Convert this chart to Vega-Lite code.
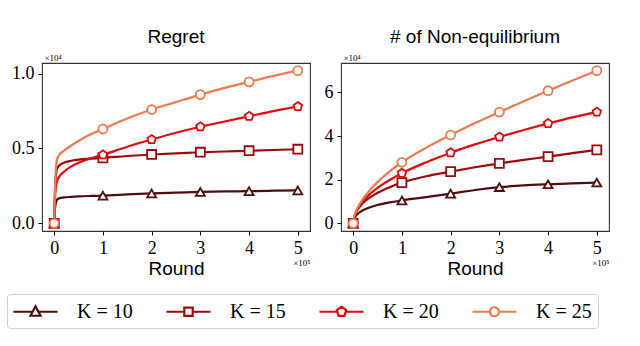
{
  "$schema": "https://vega.github.io/schema/vega-lite/v6.json",
  "padding": {"left": 6, "top": 27, "right": 5, "bottom": 5},
  "background": "white",
  "datasets": {
    "regret": [
      {"K": "K = 10", "x": 0, "y": 0, "m": 1}, {"K": "K = 10", "x": 0.01, "y": 0.07, "m": 0}, {"K": "K = 10", "x": 0.03, "y": 0.13, "m": 0}, {"K": "K = 10", "x": 0.06, "y": 0.158, "m": 0}, {"K": "K = 10", "x": 0.1, "y": 0.167, "m": 0}, {"K": "K = 10", "x": 0.2, "y": 0.173, "m": 0}, {"K": "K = 10", "x": 0.35, "y": 0.177, "m": 0}, {"K": "K = 10", "x": 0.5, "y": 0.18, "m": 0}, {"K": "K = 10", "x": 0.75, "y": 0.183, "m": 0}, {"K": "K = 10", "x": 1, "y": 0.185, "m": 1}, {"K": "K = 10", "x": 1.5, "y": 0.193, "m": 0}, {"K": "K = 10", "x": 2, "y": 0.2, "m": 1}, {"K": "K = 10", "x": 2.5, "y": 0.205, "m": 0}, {"K": "K = 10", "x": 3, "y": 0.21, "m": 1}, {"K": "K = 10", "x": 3.5, "y": 0.213, "m": 0}, {"K": "K = 10", "x": 4, "y": 0.215, "m": 1}, {"K": "K = 10", "x": 4.5, "y": 0.218, "m": 0}, {"K": "K = 10", "x": 5, "y": 0.22, "m": 1},
      {"K": "K = 15", "x": 0, "y": 0, "m": 1}, {"K": "K = 15", "x": 0.01, "y": 0.15, "m": 0}, {"K": "K = 15", "x": 0.03, "y": 0.3, "m": 0}, {"K": "K = 15", "x": 0.06, "y": 0.365, "m": 0}, {"K": "K = 15", "x": 0.1, "y": 0.385, "m": 0}, {"K": "K = 15", "x": 0.2, "y": 0.405, "m": 0}, {"K": "K = 15", "x": 0.35, "y": 0.418, "m": 0}, {"K": "K = 15", "x": 0.5, "y": 0.426, "m": 0}, {"K": "K = 15", "x": 0.75, "y": 0.432, "m": 0}, {"K": "K = 15", "x": 1, "y": 0.437, "m": 1}, {"K": "K = 15", "x": 1.5, "y": 0.45, "m": 0}, {"K": "K = 15", "x": 2, "y": 0.46, "m": 1}, {"K": "K = 15", "x": 2.5, "y": 0.468, "m": 0}, {"K": "K = 15", "x": 3, "y": 0.475, "m": 1}, {"K": "K = 15", "x": 3.5, "y": 0.48, "m": 0}, {"K": "K = 15", "x": 4, "y": 0.485, "m": 1}, {"K": "K = 15", "x": 4.5, "y": 0.49, "m": 0}, {"K": "K = 15", "x": 5, "y": 0.495, "m": 1},
      {"K": "K = 20", "x": 0, "y": 0, "m": 1}, {"K": "K = 20", "x": 0.01, "y": 0.12, "m": 0}, {"K": "K = 20", "x": 0.03, "y": 0.23, "m": 0}, {"K": "K = 20", "x": 0.06, "y": 0.285, "m": 0}, {"K": "K = 20", "x": 0.1, "y": 0.31, "m": 0}, {"K": "K = 20", "x": 0.2, "y": 0.345, "m": 0}, {"K": "K = 20", "x": 0.35, "y": 0.38, "m": 0}, {"K": "K = 20", "x": 0.5, "y": 0.405, "m": 0}, {"K": "K = 20", "x": 0.75, "y": 0.435, "m": 0}, {"K": "K = 20", "x": 1, "y": 0.458, "m": 1}, {"K": "K = 20", "x": 1.5, "y": 0.512, "m": 0}, {"K": "K = 20", "x": 2, "y": 0.56, "m": 1}, {"K": "K = 20", "x": 2.5, "y": 0.605, "m": 0}, {"K": "K = 20", "x": 3, "y": 0.645, "m": 1}, {"K": "K = 20", "x": 3.5, "y": 0.68, "m": 0}, {"K": "K = 20", "x": 4, "y": 0.715, "m": 1}, {"K": "K = 20", "x": 4.5, "y": 0.75, "m": 0}, {"K": "K = 20", "x": 5, "y": 0.78, "m": 1},
      {"K": "K = 25", "x": 0, "y": 0, "m": 1}, {"K": "K = 25", "x": 0.01, "y": 0.15, "m": 0}, {"K": "K = 25", "x": 0.03, "y": 0.33, "m": 0}, {"K": "K = 25", "x": 0.06, "y": 0.43, "m": 0}, {"K": "K = 25", "x": 0.1, "y": 0.455, "m": 0}, {"K": "K = 25", "x": 0.2, "y": 0.485, "m": 0}, {"K": "K = 25", "x": 0.35, "y": 0.52, "m": 0}, {"K": "K = 25", "x": 0.5, "y": 0.55, "m": 0}, {"K": "K = 25", "x": 0.75, "y": 0.595, "m": 0}, {"K": "K = 25", "x": 1, "y": 0.63, "m": 1}, {"K": "K = 25", "x": 1.5, "y": 0.7, "m": 0}, {"K": "K = 25", "x": 2, "y": 0.76, "m": 1}, {"K": "K = 25", "x": 2.5, "y": 0.81, "m": 0}, {"K": "K = 25", "x": 3, "y": 0.86, "m": 1}, {"K": "K = 25", "x": 3.5, "y": 0.905, "m": 0}, {"K": "K = 25", "x": 4, "y": 0.945, "m": 1}, {"K": "K = 25", "x": 4.5, "y": 0.985, "m": 0}, {"K": "K = 25", "x": 5, "y": 1.02, "m": 1}
    ],
    "noneq": [
      {"K": "K = 10", "x": 0, "y": 0, "m": 1}, {"K": "K = 10", "x": 0.01, "y": 0.15, "m": 0}, {"K": "K = 10", "x": 0.03, "y": 0.26, "m": 0}, {"K": "K = 10", "x": 0.06, "y": 0.36, "m": 0}, {"K": "K = 10", "x": 0.1, "y": 0.45, "m": 0}, {"K": "K = 10", "x": 0.2, "y": 0.6, "m": 0}, {"K": "K = 10", "x": 0.35, "y": 0.74, "m": 0}, {"K": "K = 10", "x": 0.5, "y": 0.84, "m": 0}, {"K": "K = 10", "x": 0.75, "y": 0.96, "m": 0}, {"K": "K = 10", "x": 1, "y": 1.05, "m": 1}, {"K": "K = 10", "x": 1.5, "y": 1.2, "m": 0}, {"K": "K = 10", "x": 2, "y": 1.36, "m": 1}, {"K": "K = 10", "x": 2.5, "y": 1.53, "m": 0}, {"K": "K = 10", "x": 3, "y": 1.66, "m": 1}, {"K": "K = 10", "x": 3.5, "y": 1.74, "m": 0}, {"K": "K = 10", "x": 4, "y": 1.79, "m": 1}, {"K": "K = 10", "x": 4.5, "y": 1.83, "m": 0}, {"K": "K = 10", "x": 5, "y": 1.87, "m": 1},
      {"K": "K = 15", "x": 0, "y": 0, "m": 1}, {"K": "K = 15", "x": 0.01, "y": 0.18, "m": 0}, {"K": "K = 15", "x": 0.03, "y": 0.34, "m": 0}, {"K": "K = 15", "x": 0.06, "y": 0.5, "m": 0}, {"K": "K = 15", "x": 0.1, "y": 0.66, "m": 0}, {"K": "K = 15", "x": 0.2, "y": 0.93, "m": 0}, {"K": "K = 15", "x": 0.35, "y": 1.2, "m": 0}, {"K": "K = 15", "x": 0.5, "y": 1.4, "m": 0}, {"K": "K = 15", "x": 0.75, "y": 1.66, "m": 0}, {"K": "K = 15", "x": 1, "y": 1.87, "m": 1}, {"K": "K = 15", "x": 1.5, "y": 2.16, "m": 0}, {"K": "K = 15", "x": 2, "y": 2.37, "m": 1}, {"K": "K = 15", "x": 2.5, "y": 2.57, "m": 0}, {"K": "K = 15", "x": 3, "y": 2.75, "m": 1}, {"K": "K = 15", "x": 3.5, "y": 2.91, "m": 0}, {"K": "K = 15", "x": 4, "y": 3.06, "m": 1}, {"K": "K = 15", "x": 4.5, "y": 3.22, "m": 0}, {"K": "K = 15", "x": 5, "y": 3.37, "m": 1},
      {"K": "K = 20", "x": 0, "y": 0, "m": 1}, {"K": "K = 20", "x": 0.01, "y": 0.19, "m": 0}, {"K": "K = 20", "x": 0.03, "y": 0.36, "m": 0}, {"K": "K = 20", "x": 0.06, "y": 0.53, "m": 0}, {"K": "K = 20", "x": 0.1, "y": 0.7, "m": 0}, {"K": "K = 20", "x": 0.2, "y": 1.02, "m": 0}, {"K": "K = 20", "x": 0.35, "y": 1.36, "m": 0}, {"K": "K = 20", "x": 0.5, "y": 1.63, "m": 0}, {"K": "K = 20", "x": 0.75, "y": 1.99, "m": 0}, {"K": "K = 20", "x": 1, "y": 2.3, "m": 1}, {"K": "K = 20", "x": 1.5, "y": 2.8, "m": 0}, {"K": "K = 20", "x": 2, "y": 3.24, "m": 1}, {"K": "K = 20", "x": 2.5, "y": 3.62, "m": 0}, {"K": "K = 20", "x": 3, "y": 3.96, "m": 1}, {"K": "K = 20", "x": 3.5, "y": 4.28, "m": 0}, {"K": "K = 20", "x": 4, "y": 4.58, "m": 1}, {"K": "K = 20", "x": 4.5, "y": 4.86, "m": 0}, {"K": "K = 20", "x": 5, "y": 5.1, "m": 1},
      {"K": "K = 25", "x": 0, "y": 0, "m": 1}, {"K": "K = 25", "x": 0.01, "y": 0.2, "m": 0}, {"K": "K = 25", "x": 0.03, "y": 0.38, "m": 0}, {"K": "K = 25", "x": 0.06, "y": 0.56, "m": 0}, {"K": "K = 25", "x": 0.1, "y": 0.75, "m": 0}, {"K": "K = 25", "x": 0.2, "y": 1.12, "m": 0}, {"K": "K = 25", "x": 0.35, "y": 1.54, "m": 0}, {"K": "K = 25", "x": 0.5, "y": 1.89, "m": 0}, {"K": "K = 25", "x": 0.75, "y": 2.38, "m": 0}, {"K": "K = 25", "x": 1, "y": 2.8, "m": 1}, {"K": "K = 25", "x": 1.5, "y": 3.47, "m": 0}, {"K": "K = 25", "x": 2, "y": 4.05, "m": 1}, {"K": "K = 25", "x": 2.5, "y": 4.6, "m": 0}, {"K": "K = 25", "x": 3, "y": 5.1, "m": 1}, {"K": "K = 25", "x": 3.5, "y": 5.6, "m": 0}, {"K": "K = 25", "x": 4, "y": 6.08, "m": 1}, {"K": "K = 25", "x": 4.5, "y": 6.55, "m": 0}, {"K": "K = 25", "x": 5, "y": 7.0, "m": 1}
    ]
  },
  "hconcat": [
    {
      "width": 268, "height": 168,
      "title": {"text": "Regret", "frame": "group"},
      "data": {"name": "regret"},
      "layer": [
        {
          "mark": {"type": "line", "strokeWidth": 2.2, "interpolate": "monotone"},
          "encoding": {
            "x": {"field": "x", "type": "quantitative", "scale": {"domain": [-0.25, 5.25], "nice": false, "zero": false},
                  "axis": {"values": [0, 1, 2, 3, 4, 5], "title": "Round", "titlePadding": 2}},
            "y": {"field": "y", "type": "quantitative", "title": "×10⁴", "scale": {"domain": [-0.051, 1.071], "nice": false, "zero": false},
                  "axis": {"values": [0, 0.5, 1], "format": ".1f", "titleAngle": 0, "titleX": 2, "titleY": -6, "titleAlign": "left", "titleBaseline": "middle", "titleFontSize": 9, "titleFont": "Liberation Serif"}},
            "color": {"field": "K", "type": "nominal", "title": null,
                      "scale": {"domain": ["K = 10", "K = 15", "K = 20", "K = 25"], "range": ["#500d0d", "#9a0a0a", "#e2080d", "#ec7b4f"]},
                      "legend": {"orient": "none", "legendX": -35, "legendY": 231,
                                 "symbolType": {"expr": "datum.value === 'K = 10' ? 'M-2.2,0H-0.29M0.29,0H2.2M0,-0.55L0.5,0.4L-0.5,0.4Z' : datum.value === 'K = 15' ? 'M-2.2,0H-0.42M0.42,0H2.2M-0.42,-0.42H0.42V0.42H-0.42Z' : datum.value === 'K = 20' ? 'M-2.2,0H-0.43M0.43,0H2.2M0,-0.5L0.476,-0.155L0.294,0.405L-0.294,0.405L-0.476,-0.155Z' : 'M-2.2,0H-0.45M0.45,0H2.2M-0.45,0A0.45,0.45 0 1,0 0.45,0A0.45,0.45 0 1,0 -0.45,0'"}}}
          }
        },
        {
          "transform": [{"filter": "datum.m == 1"}, {"window": [{"op": "first_value", "field": "K", "as": "S"}], "groupby": ["K"]}],
          "mark": {"type": "point", "filled": false, "fill": "white", "size": 80, "strokeWidth": 1.8, "opacity": 1},
          "encoding": {
            "x": {"field": "x", "type": "quantitative",
                  "axis": {"orient": "bottom", "title": "×10⁵", "labels": false, "ticks": false, "domain": false, "titleX": 268, "titleY": 31, "titleAlign": "right", "titleBaseline": "middle", "titleFontSize": 9, "titleFont": "Liberation Serif"}},
            "y": {"field": "y", "type": "quantitative", "title": "×10⁴"},
            "stroke": {"field": "S", "type": "nominal", "legend": null,
                       "scale": {"range": ["#500d0d", "#9a0a0a", "#e2080d", "#ec7b4f"]}},
            "shape": {"field": "S", "type": "nominal", "legend": null,
                      "scale": {"range": ["triangle-up", "square", "M0,-1L0.951,-0.309L0.588,0.809L-0.588,0.809L-0.951,-0.309Z", "circle"]}}
          }
        }
      ],
      "resolve": {"axis": {"x": "independent"}}
    },
    {
      "width": 268, "height": 168,
      "title": {"text": "# of Non-equilibrium", "frame": "group"},
      "data": {"name": "noneq"},
      "layer": [
        {
          "mark": {"type": "line", "strokeWidth": 2.2, "interpolate": "monotone"},
          "encoding": {
            "x": {"field": "x", "type": "quantitative", "scale": {"domain": [-0.25, 5.25], "nice": false, "zero": false},
                  "axis": {"values": [0, 1, 2, 3, 4, 5], "title": "Round", "titlePadding": 2}},
            "y": {"field": "y", "type": "quantitative", "title": "×10⁴", "scale": {"domain": [-0.35, 7.35], "nice": false, "zero": false},
                  "axis": {"values": [0, 2, 4, 6], "format": "d", "titleAngle": 0, "titleX": 2, "titleY": -6, "titleAlign": "left", "titleBaseline": "middle", "titleFontSize": 9, "titleFont": "Liberation Serif"}},
            "color": {"field": "K", "type": "nominal", "title": null}
          }
        },
        {
          "transform": [{"filter": "datum.m == 1"}, {"window": [{"op": "first_value", "field": "K", "as": "S"}], "groupby": ["K"]}],
          "mark": {"type": "point", "filled": false, "fill": "white", "size": 80, "strokeWidth": 1.8, "opacity": 1},
          "encoding": {
            "x": {"field": "x", "type": "quantitative",
                  "axis": {"orient": "bottom", "title": "×10⁵", "labels": false, "ticks": false, "domain": false, "titleX": 268, "titleY": 31, "titleAlign": "right", "titleBaseline": "middle", "titleFontSize": 9, "titleFont": "Liberation Serif"}},
            "y": {"field": "y", "type": "quantitative", "title": "×10⁴"},
            "stroke": {"field": "S", "type": "nominal", "legend": null},
            "shape": {"field": "S", "type": "nominal", "legend": null}
          }
        }
      ],
      "resolve": {"axis": {"x": "independent"}}
    }
  ],
  "spacing": 12,
  "config": {
    "view": {"stroke": "#333333", "strokeWidth": 1.1},
    "axis": {"grid": false, "domain": false, "tickColor": "#000000", "tickSize": 4, "tickWidth": 1, "labelColor": "#000000", "titleColor": "#000000",
             "labelFont": "Liberation Serif", "labelFontSize": 18, "labelPadding": 4, "titleFont": "Liberation Sans", "titleFontSize": 19, "titleFontWeight": "normal"},
    "title": {"font": "Liberation Sans", "fontSize": 19, "fontWeight": "normal", "color": "#000000", "offset": 6},
    "legend": {"direction": "horizontal", "labelFont": "Liberation Serif", "labelFontSize": 20, "labelColor": "#000000",
               "symbolSize": 400, "symbolStrokeWidth": 2.2, "symbolOffset": 11, "labelOffset": 30, "columnPadding": 29, "padding": 6,
               "strokeColor": "#d0d0d0", "cornerRadius": 3}
  }
}
